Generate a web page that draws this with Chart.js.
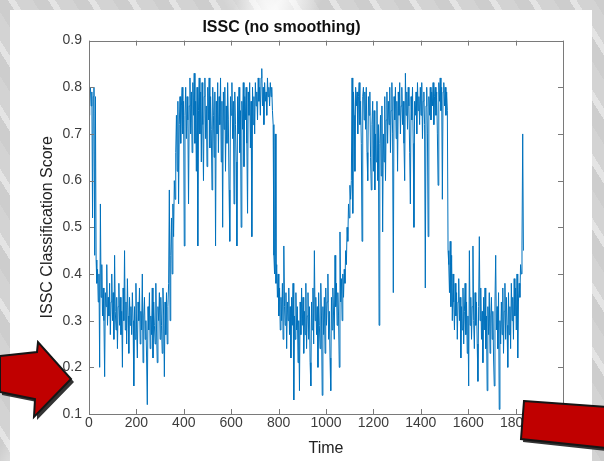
<!DOCTYPE html>
<html>
<head>
<meta charset="utf-8">
<title>ISSC (no smoothing)</title>
<script src="https://cdn.jsdelivr.net/npm/chart.js@4.4.1/dist/chart.umd.min.js"></script>
<style>
  html, body { margin: 0; padding: 0; }
  body {
    width: 604px; height: 461px; overflow: hidden; position: relative;
    background:
      linear-gradient(118deg, rgba(255,255,255,0) 28%, rgba(255,255,255,.75) 33%, rgba(255,255,255,0) 38%),
      linear-gradient(62deg, rgba(255,255,255,0) 55%, rgba(255,255,255,.6) 60%, rgba(255,255,255,0) 66%),
      repeating-linear-gradient(58deg, #cdcdcd 0 13px, #e4e4e4 13px 19px, #d3d3d3 19px 34px);
  }
  #sheet { position: absolute; left: 10px; top: 10px; width: 582px; height: 451px; background: #fff; }
  #plot, #marks { position: absolute; left: 0; top: 0; }
</style>
</head>
<body>
<div id="sheet"></div>
<canvas id="plot" width="604" height="461"></canvas>
<svg id="marks" width="604" height="461">
  <!-- pointer arrows with a dark drop edge -->
  <polygon points="2,359 39,355 40,345 74,382 37,420 37,402 2,395" fill="#333"/>
  <polygon points="0,356 37,352 38,342 71,379 34,417 35,399 0,392" fill="#c00000" stroke="#151515" stroke-width="2"/>
  <polygon points="526,404 606,410 606,451 523,442" fill="#333"/>
  <polygon points="524,401 606,407 606,448 521,439" fill="#c00000" stroke="#151515" stroke-width="2"/>
</svg>
<script>
// classification score, one sample every 3 time steps (20 per row = 60 steps)
const timeStep = 3;
const scores = [
  .74,.79,.80,.76,.79,.52,.78,.80,.44,.78,.43,.38,.41,.34,.40,.20,.55,.35,.42,.31,
  .37,.30,.18,.36,.33,.42,.29,.35,.31,.38,.27,.34,.40,.30,.36,.26,.44,.32,.28,.35,
  .24,.33,.38,.29,.35,.27,.32,.20,.37,.30,.45,.28,.34,.25,.39,.31,.23,.35,.29,.33,
  .27,.36,.30,.16,.33,.26,.38,.28,.22,.34,.30,.37,.25,.32,.28,.40,.21,.31,.35,.26,
  .30,.22,.12,.33,.28,.36,.24,.31,.27,.37,.22,.34,.29,.25,.38,.28,.21,.33,.30,.36,
  .26,.35,.29,.23,.37,.31,.18,.34,.27,.36,.25,.33,.38,.58,.30,.44,.52,.40,.55,.48,
  .60,.56,.66,.74,.62,.77,.55,.72,.78,.68,.76,.80,.70,.77,.46,.74,.80,.69,.78,.73,
  .55,.76,.82,.70,.79,.66,.81,.74,.83,.68,.77,.62,.80,.46,.75,.82,.70,.79,.64,.81,
  .72,.60,.78,.82,.69,.76,.63,.80,.73,.82,.67,.78,.71,.58,.80,.74,.65,.79,.46,.77,
  .70,.81,.66,.78,.72,.82,.64,.77,.50,.79,.71,.80,.62,.76,.68,.81,.73,.58,.47,.78,
  .74,.81,.69,.77,.55,.79,.72,.64,.46,.78,.70,.80,.66,.75,.50,.77,.71,.81,.63,.78,
  .73,.80,.68,.53,.79,.74,.81,.67,.77,.48,.80,.72,.78,.70,.81,.76,.79,.73,.82,.77,
  .80,.74,.82,.84,.76,.80,.72,.81,.77,.79,.74,.82,.78,.80,.76,.81,.78,.80,.75,.72,
  .44,.40,.70,.38,.42,.35,.40,.31,.37,.28,.35,.30,.38,.26,.46,.33,.29,.36,.24,.34,
  .30,.37,.27,.33,.22,.35,.29,.38,.13,.31,.26,.36,.28,.33,.21,.30,.15,.34,.27,.37,
  .29,.35,.23,.32,.27,.38,.24,.31,.36,.26,.33,.21,.16,.34,.28,.37,.25,.45,.30,.35,
  .27,.33,.20,.36,.29,.24,.38,.31,.14,.33,.27,.35,.23,.37,.29,.34,.40,.26,.32,.22,
  .15,.35,.28,.37,.31,.26,.44,.33,.38,.29,.36,.31,.20,.49,.34,.39,.30,.40,.35,.41,
  .38,.45,.42,.50,.47,.55,.52,.59,.56,.60,.82,.53,.79,.74,.62,.80,.76,.79,.70,.78,
  .81,.72,.77,.68,.47,.78,.80,.73,.79,.71,.80,.66,.60,.78,.74,.79,.65,.58,.72,.77,
  .62,.75,.58,.70,.64,.77,.60,.72,.29,.68,.74,.61,.76,.49,.70,.64,.78,.60,.73,.79,
  .68,.77,.72,.80,.66,.75,.81,.70,.36,.78,.73,.80,.69,.77,.62,.79,.74,.81,.70,.76,
  .80,.72,.77,.68,.60,.83,.74,.79,.71,.80,.76,.66,.55,.78,.73,.80,.68,.50,.77,.74,
  .79,.70,.81,.75,.78,.72,.80,.74,.81,.69,.77,.79,.72,.37,.76,.80,.70,.48,.78,.74,
  .80,.73,.79,.76,.81,.72,.78,.80,.74,.79,.70,.59,.81,.77,.82,.75,.80,.56,.79,.81,
  .76,.80,.74,.79,.75,.45,.42,.36,.47,.33,.44,.30,.40,.34,.28,.38,.31,.36,.26,.34,
  .39,.30,.35,.22,.33,.28,.37,.25,.32,.38,.27,.34,.23,.31,.16,.45,.29,.35,.26,.33,
  .46,.30,.24,.36,.29,.34,.25,.17,.33,.48,.30,.37,.26,.32,.21,.35,.28,.37,.24,.31,
  .15,.33,.27,.36,.23,.31,.35,.26,.32,.22,.16,.34,.44,.28,.33,.24,.36,.11,.30,.25,
  .34,.27,.37,.23,.32,.38,.26,.35,.29,.20,.36,.27,.33,.24,.38,.30,.35,.26,.39,.31,
  .37,.28,.40,.22,.34,.38,.35,.42,.40,.46,.70,.45
];
const timeTicks = [0, 200, 400, 600, 800, 1000, 1200, 1400, 1600, 1800, 2000];
const scoreTicks = [0.1, 0.2, 0.3, 0.4, 0.5, 0.6, 0.7, 0.8, 0.9];

const points = scores.map((s, i) => ({ x: i * timeStep, y: s }));

Chart.defaults.font.family = '"Liberation Sans", Arial, sans-serif';
Chart.defaults.color = '#3c3c3c';

// box around the axes with inward tick marks on all four sides
const axesBox = {
  id: 'axesBox',
  afterDatasetsDraw(chart) {
    const { ctx, chartArea: a, scales: { x, y } } = chart;
    const len = 5;
    ctx.save();
    ctx.strokeStyle = '#7a7a7a';
    ctx.lineWidth = 1;
    ctx.beginPath();
    ctx.rect(Math.round(a.left) + .5, Math.round(a.top) + .5,
      Math.round(a.right - a.left), Math.round(a.bottom - a.top));
    timeTicks.forEach(v => {
      const px = Math.round(x.getPixelForValue(v)) + .5;
      ctx.moveTo(px, a.bottom); ctx.lineTo(px, a.bottom - len);
      ctx.moveTo(px, a.top); ctx.lineTo(px, a.top + len);
    });
    scoreTicks.forEach(v => {
      const py = Math.round(y.getPixelForValue(v)) + .5;
      ctx.moveTo(a.left, py); ctx.lineTo(a.left + len, py);
      ctx.moveTo(a.right, py); ctx.lineTo(a.right - len, py);
    });
    ctx.stroke();
    ctx.restore();
  }
};

new Chart(document.getElementById('plot'), {
  type: 'line',
  data: {
    datasets: [{
      data: points,
      borderColor: '#0072BD',
      borderWidth: 1,
      pointRadius: 0,
      tension: 0,
      fill: false
    }]
  },
  options: {
    responsive: false,
    animation: false,
    devicePixelRatio: 1,
    layout: { padding: { left: 0, right: 41, top: 18, bottom: 0 } },
    scales: {
      x: {
        type: 'linear',
        min: 0,
        max: 2000,
        afterBuildTicks: s => { s.ticks = timeTicks.map(v => ({ value: v })); },
        afterFit: s => { s.height = 47; },
        grid: { display: false, drawTicks: false },
        border: { display: false },
        ticks: { padding: 1, maxRotation: 0, autoSkip: false, font: { size: 14 }, callback: v => String(v) },
        title: { display: true, text: 'Time', color: '#222', font: { size: 16 }, padding: { top: 0, bottom: 2.4 } }
      },
      y: {
        min: 0.1,
        max: 0.9,
        afterBuildTicks: s => { s.ticks = scoreTicks.map(v => ({ value: v })); },
        afterFit: s => { s.width = 89; },
        grid: { display: false, drawTicks: false },
        border: { display: false },
        ticks: { padding: 7, font: { size: 14 }, callback: v => v.toFixed(1) },
        title: { display: true, text: 'ISSC Classification Score', color: '#222', font: { size: 16 }, padding: { top: 38.4, bottom: 0 } }
      }
    },
    plugins: {
      legend: { display: false },
      tooltip: { enabled: false },
      title: {
        display: true,
        text: 'ISSC (no smoothing)',
        color: '#111',
        font: { size: 16, weight: 'bold' },
        padding: { top: 0, bottom: 3.4 }
      }
    }
  },
  plugins: [axesBox]
});
</script>
</body>
</html>
